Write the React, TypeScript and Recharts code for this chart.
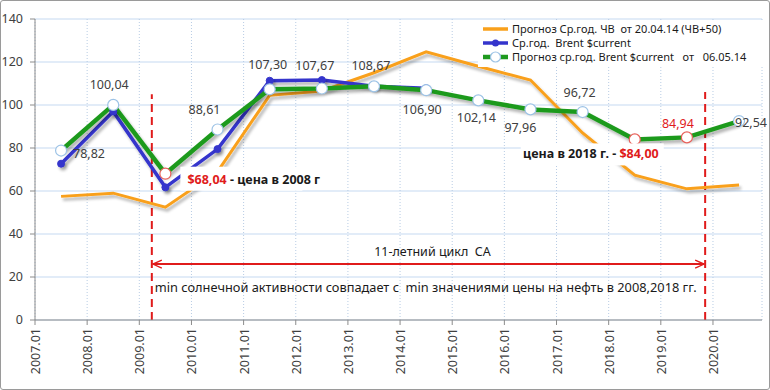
import {
  LineChart,
  Line,
  XAxis,
  YAxis,
  CartesianGrid,
  ReferenceLine,
  Legend,
  LabelList,
} from 'recharts';

// mid-year points, 2007..2020
const years = [2007.5, 2008.5, 2009.5, 2010.5, 2011.5, 2012.5, 2013.5, 2014.5, 2015.5, 2016.5, 2017.5, 2018.5, 2019.5, 2020.5];
const forecastCycle = [57.5, 59, 52.5, 69, 104.5, 106.5, 115, 124.7, 118, 111.6, 87, 67.4, 61, 62.8];
const brentActual = [72.7, 97.0, 61.7, 79.5, 111.3, 111.6, 108.7, 107.8, null, null, null, null, null, null];
const brentForecast = [78.82, 100.04, 68.04, 88.61, 107.3, 107.67, 108.67, 106.9, 102.14, 97.96, 96.72, 84.0, 84.94, 92.54];

const xTicks = [2007, 2008, 2009, 2010, 2011, 2012, 2013, 2014, 2015, 2016, 2017, 2018, 2019, 2020];
const yTicks = [0, 20, 40, 60, 80, 100, 120, 140];

const cycleStart = 2009.24;
const cycleEnd = 2019.85;
const arrowLevel = 26;

const seriesKeys = ['cycle', 'actual', 'forecast'];
const seriesNames = [
  'Прогноз Ср.год. ЧВ  от 20.04.14 (ЧВ+50)',
  'Ср.год.  Brent $current',
  'Прогноз ср.год. Brent $current   от   06.05.14',
];

const data = years.map((year, i) => ({
  year,
  cycle: forecastCycle[i],
  actual: brentActual[i],
  forecast: brentForecast[i],
}));

const ORANGE = '#f9a01b';
const BLUE = '#3434cc';
const GREEN = '#1f9a1f';
const RED = '#e01b1b';
const FONT = '"Noto Sans", sans-serif';

// label placement for the green series (index -> offset from the point)
const labelOffsets: ({ dx: number; dy: number; anchor?: string; red?: boolean } | null)[] = [
  { dx: 12, dy: 2.5, anchor: 'start' },
  { dx: -4, dy: -20 },
  null,
  { dx: -13, dy: -20 },
  { dx: -2, dy: -25 },
  { dx: -7, dy: -23.5 },
  { dx: -3, dy: -21 },
  { dx: -4, dy: 19 },
  { dx: -2, dy: 17.5 },
  { dx: -10, dy: 18.5 },
  { dx: -3, dy: -20 },
  null,
  { dx: -9, dy: -14, red: true },
  { dx: 12, dy: 1 },
];
const redMarkers = [2, 11, 12];

const fmt = (v: number) => v.toFixed(2).replace('.', ',');

function GreenLabel(props: any) {
  const { x, y, index, value } = props;
  if (x == null || y == null) return null;
  if (index === 2) {
    return (
      <g>
        <rect x={x + 15} y={y - 7} width={122} height={24} fill="#fff" />
        <text x={x + 22} y={y + 5} dominantBaseline="central" fontSize={12.5} fontWeight="bold" fontFamily={FONT}>
          <tspan fill={RED}>${fmt(value)}</tspan>
          <tspan fill="#1a1a1a"> - цена в 2008 г</tspan>
        </text>
      </g>
    );
  }
  if (index === 11) {
    return (
      <g>
        <rect x={x - 114} y={y + 4} width={143} height={22} fill="#fff" />
        <text x={x + 24} y={y + 14} dominantBaseline="central" textAnchor="end" fontSize={12.5} fontWeight="bold" fontFamily={FONT}>
          <tspan fill="#1a1a1a">цена в 2018 г. - </tspan>
          <tspan fill={RED}>${fmt(value)}</tspan>
        </text>
      </g>
    );
  }
  const o = labelOffsets[index];
  if (!o) return null;
  return (
    <text
      x={x + o.dx}
      y={y + o.dy}
      textAnchor={o.anchor ?? 'middle'}
      dominantBaseline="central"
      fontSize={12.5}
      fontFamily={FONT}
      fill={o.red ? RED : '#404040'}
    >
      {fmt(value)}
    </text>
  );
}

function GreenDot(props: any) {
  const { cx, cy, index } = props;
  if (cx == null || cy == null) return null;
  return (
    <circle
      key={index}
      cx={cx}
      cy={cy}
      r={5.5}
      fill="#fff"
      stroke={redMarkers.includes(index) ? '#e8605a' : '#9dc3e6'}
      strokeWidth={1.2}
    />
  );
}

function XTick(props: any) {
  const { x, y, payload } = props;
  const tx = x + 5;
  const ty = y + 1;
  return (
    <text x={tx} y={ty} transform={`rotate(-90, ${tx}, ${ty})`} textAnchor="end" fontSize={12.5} fontFamily={FONT} fill="#404040">
      {`${payload.value}.01`}
    </text>
  );
}

function CycleArrow(props: any) {
  const { x1, y1, x2 } = props;
  const y = y1;
  const mid = (x1 + x2) / 2;
  return (
    <g>
      <line x1={x1 + 1} y1={y} x2={x2 - 1} y2={y} stroke={RED} strokeWidth={2} />
      <path
        d={`M${x1 + 10},${y - 4} L${x1 + 1},${y} L${x1 + 10},${y + 4} M${x2 - 10},${y - 4} L${x2 - 1},${y} L${x2 - 10},${y + 4}`}
        stroke={RED}
        strokeWidth={1.3}
        fill="none"
      />
      <text x={mid + 4} y={y - 13} textAnchor="middle" dominantBaseline="central" fontSize={12.5} fontFamily={FONT} fill="#1a1a1a" style={{ whiteSpace: 'pre' }}>
        11-летний цикл  СА
      </text>
      <text x={x1 + 3} y={y + 23} dominantBaseline="central" fontSize={12.8} fontFamily={FONT} fill="#1a1a1a" style={{ whiteSpace: 'pre' }}>
        min солнечной активности совпадает с  min значениями цены на нефть в 2008,2018 гг.
      </text>
    </g>
  );
}

function LegendBox(props: any) {
  const entries = [...(props.payload ?? [])].sort(
    (a: any, b: any) => seriesKeys.indexOf(a.dataKey) - seriesKeys.indexOf(b.dataKey)
  );
  return (
    <div style={{ background: '#fff', padding: '2px 0 3px 5px', fontFamily: FONT, fontSize: 11, lineHeight: '14px', color: '#1a1a1a' }}>
      {entries.map((entry: any) => {
        const k = seriesKeys.indexOf(entry.dataKey);
        return (
          <div key={entry.dataKey} style={{ display: 'flex', alignItems: 'center', height: 14, whiteSpace: 'pre' }}>
            <svg width={29} height={14} style={{ flex: 'none' }}>
              <line x1={0} y1={7} x2={25} y2={7} stroke={entry.color} strokeWidth={k === 2 ? 4.5 : 3.5} />
              {k === 1 && <circle cx={12.5} cy={7} r={3.5} fill={BLUE} />}
              {k === 2 && <circle cx={12.5} cy={7} r={5} fill="#fff" stroke="#9dc3e6" strokeWidth={1.2} />}
            </svg>
            <span>{entry.value}</span>
          </div>
        );
      })}
    </div>
  );
}

export default function App() {
  return (
    <div style={{ position: 'absolute', left: 0, top: 0, width: 770, height: 390, background: '#fff' }}>
      <LineChart
        width={770}
        height={390}
        data={data}
        margin={{ top: 19, right: 8, left: 0, bottom: 10 }}
        style={{ fontFamily: FONT }}
      >
        <defs>
          <filter id="lineShadow" filterUnits="userSpaceOnUse" x={0} y={0} width={770} height={390}>
            <feGaussianBlur in="SourceAlpha" stdDeviation={1.6} />
            <feOffset dx={2} dy={3} result="off" />
            <feComponentTransfer>
              <feFuncA type="linear" slope={0.3} />
            </feComponentTransfer>
            <feMerge>
              <feMergeNode />
              <feMergeNode in="SourceGraphic" />
            </feMerge>
          </filter>
        </defs>
        <CartesianGrid vertical={false} stroke="#c5d9f1" />
        <CartesianGrid horizontal={false} stroke="#b8cce4" strokeDasharray="1 2" />
        <XAxis
          dataKey="year"
          type="number"
          domain={[2007, 2020.94]}
          ticks={xTicks}
          allowDataOverflow
          height={60}
          tickSize={5}
          tickMargin={2}
          interval={0}
          stroke="#8c8c8c"
          tick={<XTick />}
        />
        <YAxis
          domain={[0, 140]}
          ticks={yTicks}
          width={35}
          tickSize={5}
          tickMargin={7}
          stroke="#8c8c8c"
          tick={{ fontSize: 12.5, fill: '#404040', fontFamily: FONT }}
        />
        <ReferenceLine
          segment={[{ x: cycleStart, y: 0 }, { x: cycleStart, y: 105 }]}
          stroke={RED}
          strokeWidth={2}
          strokeDasharray="8 5"
        />
        <ReferenceLine
          segment={[{ x: cycleEnd, y: 0 }, { x: cycleEnd, y: 106 }]}
          stroke={RED}
          strokeWidth={2}
          strokeDasharray="8 5"
        />
        <ReferenceLine
          segment={[{ x: cycleStart, y: arrowLevel }, { x: cycleEnd, y: arrowLevel }]}
          shape={<CycleArrow />}
        />
        <Line
          name={seriesNames[0]}
          dataKey="cycle"
          stroke={ORANGE}
          strokeWidth={3}
          dot={false}
          isAnimationActive={false}
          filter="url(#lineShadow)"
        />
        <Line
          name={seriesNames[1]}
          dataKey="actual"
          stroke={BLUE}
          strokeWidth={3.5}
          dot={{ r: 3.5, fill: BLUE, stroke: BLUE, strokeWidth: 1 }}
          isAnimationActive={false}
          filter="url(#lineShadow)"
        />
        <Line
          name={seriesNames[2]}
          dataKey="forecast"
          stroke={GREEN}
          strokeWidth={4.5}
          dot={<GreenDot />}
          isAnimationActive={false}
          filter="url(#lineShadow)"
        >
          <LabelList dataKey="forecast" content={<GreenLabel />} />
        </Line>
        <Legend
          layout="vertical"
          align="center"
          verticalAlign="middle"
          itemSorter={null}
          content={<LegendBox />}
          wrapperStyle={{ position: 'absolute', left: 478, top: 20, width: 290 }}
        />
      </LineChart>
      <div
        style={{
          position: 'absolute',
          left: 0,
          top: 0,
          width: 770,
          height: 390,
          boxSizing: 'border-box',
          border: '1px solid #9a9a9a',
          borderRadius: 3,
          pointerEvents: 'none',
        }}
      />
    </div>
  );
}
